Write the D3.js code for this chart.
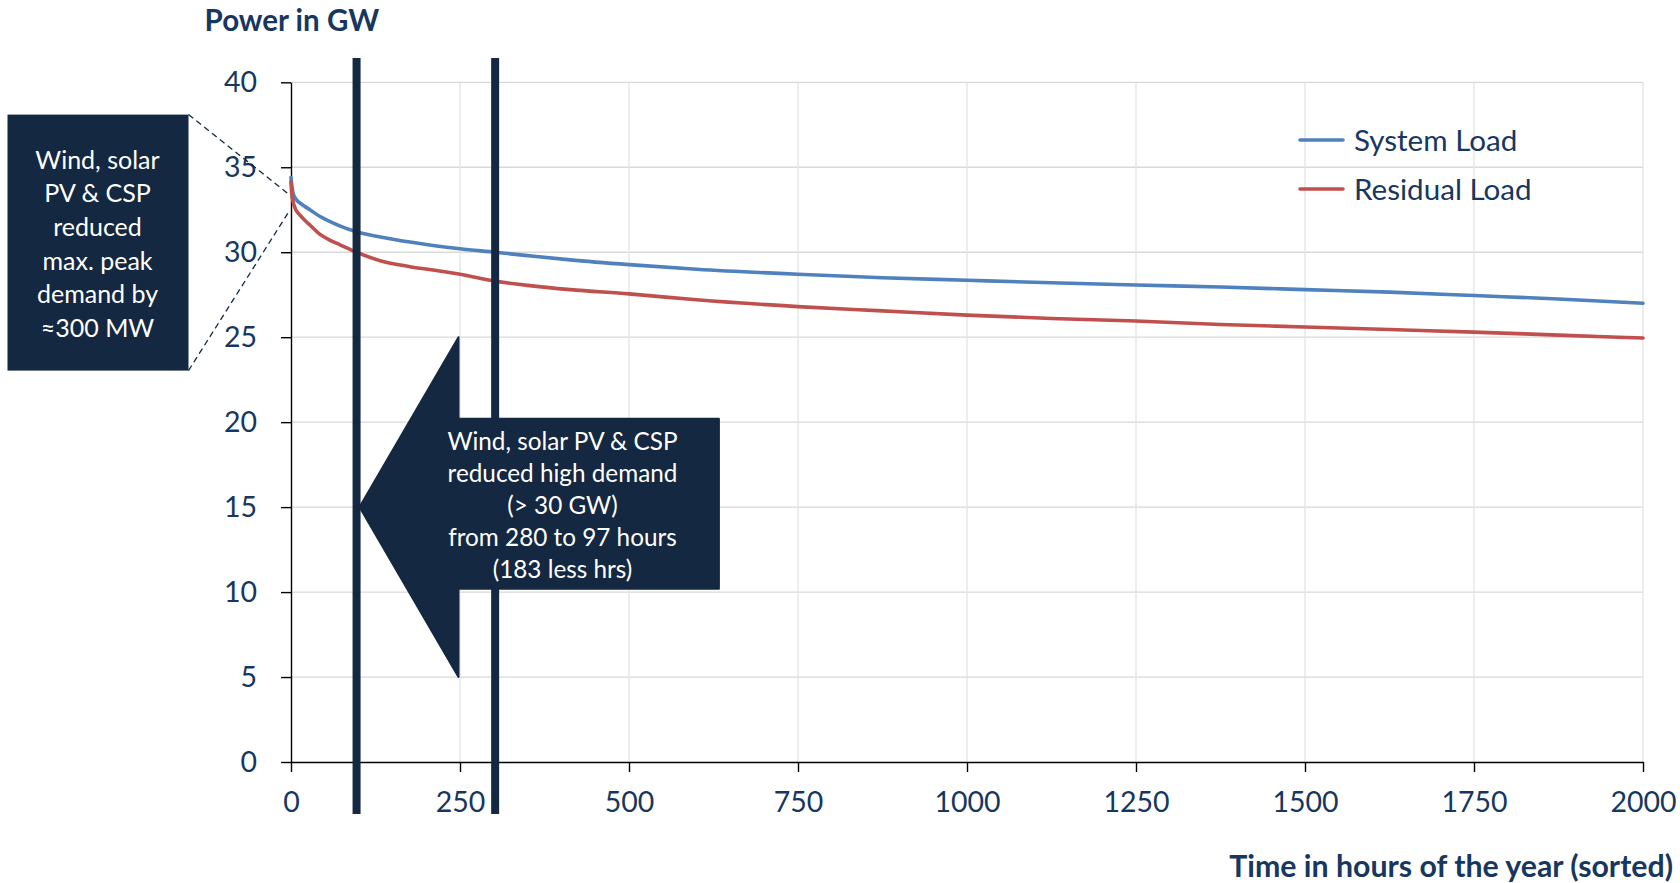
<!DOCTYPE html>
<html>
<head>
<meta charset="utf-8">
<script src="https://cdn.jsdelivr.net/npm/d3@7"></script>
<style>
  html, body { margin: 0; padding: 0; background: #fff; }
  svg { display: block; }
  text { font-family: Lato, "Open Sans", sans-serif; }
</style>
</head>
<body>
<svg id="chart" width="1680" height="883"></svg>
<script>
// ---- data ----
const hours = [0, 1, 3, 6, 13, 20, 28, 43, 58, 72, 97, 132, 176, 210, 250, 302, 350, 413, 500, 600, 750, 875, 1000, 1125, 1250, 1375, 1500, 1625, 1750, 1875, 2000];
const systemLoad = [34.4, 34.0, 33.5, 33.2, 32.9, 32.7, 32.5, 32.1, 31.8, 31.55, 31.2, 30.9, 30.6, 30.4, 30.2, 30.0, 29.8, 29.55, 29.27, 29.0, 28.7, 28.5, 28.35, 28.2, 28.07, 27.95, 27.8, 27.65, 27.45, 27.25, 27.0];
const residualLoad = [34.15, 33.5, 33.0, 32.6, 32.2, 31.9, 31.6, 31.05, 30.7, 30.45, 30.0, 29.5, 29.15, 28.95, 28.7, 28.3, 28.05, 27.8, 27.55, 27.2, 26.8, 26.55, 26.3, 26.1, 25.95, 25.75, 25.6, 25.45, 25.3, 25.12, 24.95];
const seriesNames = ["System Load", "Residual Load"];
const xTicks = [0, 250, 500, 750, 1000, 1250, 1500, 1750, 2000];
const yTicks = [0, 5, 10, 15, 20, 25, 30, 35, 40];
const markerHours = [97, 302];
const yTitle = "Power in GW";
const xTitle = "Time in hours of the year (sorted)";
const leftNote = ["Wind, solar", "PV & CSP", "reduced", "max. peak", "demand by", "≈300 MW"];
const arrowNote = ["Wind, solar PV & CSP", "reduced high demand", "(> 30 GW)", "from 280 to 97 hours", "(183 less hrs)"];

// ---- styles ----
const navy = "#142841";
const textCol = "#17375e";
const colors = ["#4f81bd", "#c0504d"];

const svg = d3.select("#chart");
const x = d3.scaleLinear().domain([0, 2000]).range([291, 1643]);
const y = d3.scaleLinear().domain([0, 40]).range([762, 82.3]);

// gridlines
svg.append("g").selectAll("line.h").data(yTicks.filter(d => d > 0)).join("line")
  .attr("x1", x(0)).attr("x2", x(2000))
  .attr("y1", d => y(d)).attr("y2", d => y(d))
  .attr("stroke", "#d9d9d9").attr("stroke-width", 1.3);
svg.append("g").selectAll("line.v").data(xTicks.filter(d => d > 0)).join("line")
  .attr("x1", d => x(d)).attr("x2", d => x(d))
  .attr("y1", y(0)).attr("y2", y(40))
  .attr("stroke", "#e3e3e3").attr("stroke-width", 1.3);

// axes
const yAxis = svg.append("g").attr("transform", `translate(${x(0)},0)`)
  .call(d3.axisLeft(y).tickValues(yTicks).tickSize(10).tickPadding(24).tickSizeOuter(0));
const xAxis = svg.append("g").attr("transform", `translate(0,${y(0)})`)
  .call(d3.axisBottom(x).tickValues(xTicks).tickSize(10).tickPadding(20).tickSizeOuter(0).tickFormat(d3.format("d")));
[yAxis, xAxis].forEach(a => {
  a.select(".domain").attr("stroke", "#000").attr("stroke-width", 1.4);
  a.selectAll(".tick line").attr("stroke", "#000").attr("stroke-width", 1.4);
  a.selectAll(".tick text").attr("fill", textCol).attr("font-size", 28.5)
    .attr("font-family", "Lato, sans-serif");
});

// series lines
const line = d3.line().x((d, i) => x(hours[i])).y(d => y(d)).curve(d3.curveMonotoneX);
[systemLoad, residualLoad].forEach((s, k) => {
  svg.append("path").datum(s).attr("d", line)
    .attr("fill", "none").attr("stroke", colors[k]).attr("stroke-width", 3.6)
    .attr("stroke-linejoin", "round").attr("stroke-linecap", "round");
});

// vertical marker lines
svg.append("g").selectAll("line").data(markerHours).join("line")
  .attr("x1", d => x(d)).attr("x2", d => x(d))
  .attr("y1", 58).attr("y2", 814)
  .attr("stroke", navy).attr("stroke-width", 8);

// arrow callout
const tipX = x(97) + 3, baseX = x(250) - 1.5, rightX = x(633);
const arrowPts = [
  [tipX, y(15)], [baseX, y(25)], [baseX, y(20.2)], [rightX, y(20.2)],
  [rightX, y(10.2)], [baseX, y(10.2)], [baseX, y(5)]
];
svg.append("path").attr("d", "M" + arrowPts.map(p => p.join(",")).join("L") + "Z")
  .attr("fill", navy).attr("stroke", navy).attr("stroke-width", 2).attr("stroke-linejoin", "round");
svg.append("text").attr("text-anchor", "middle").attr("fill", "#fff").attr("font-size", 24.3)
  .selectAll("tspan").data(arrowNote).join("tspan")
  .attr("x", 562.5).attr("y", (d, i) => 450 + i * 32).text(d => d);

// left note box with dashed leader lines
svg.append("rect").attr("x", 7.5).attr("y", 114.6).attr("width", 181).attr("height", 256)
  .attr("fill", navy);
svg.append("text").attr("text-anchor", "middle").attr("fill", "#fff").attr("font-size", 25)
  .selectAll("tspan").data(leftNote).join("tspan")
  .attr("x", 97.5).attr("y", (d, i) => 168.5 + i * 33.7).text(d => d);
svg.append("line").attr("x1", 188.5).attr("y1", 114.6).attr("x2", x(0) - 2).attr("y2", y(33.4))
  .attr("stroke", navy).attr("stroke-width", 1.3).attr("stroke-dasharray", "6,4");
svg.append("line").attr("x1", 188.5).attr("y1", 370.6).attr("x2", x(0) - 2).attr("y2", y(32.4))
  .attr("stroke", navy).attr("stroke-width", 1.3).attr("stroke-dasharray", "6,4");

// legend
const lg = svg.append("g").selectAll("g").data(seriesNames).join("g")
  .attr("transform", (d, i) => `translate(1300,${140 + i * 49})`);
lg.append("line").attr("x1", 0).attr("x2", 43).attr("stroke", (d, i) => colors[i])
  .attr("stroke-width", 3.6).attr("stroke-linecap", "round");
lg.append("text").attr("x", 54).attr("y", 10.5).attr("fill", textCol).attr("font-size", 29.6).text(d => d);

// axis titles
svg.append("text").attr("x", 204.6).attr("y", 30.5).attr("fill", textCol)
  .attr("font-size", 29.5).attr("font-weight", "bold").text(yTitle);
svg.append("text").attr("x", 1673).attr("y", 876.5).attr("text-anchor", "end").attr("fill", textCol)
  .attr("font-size", 30.3).attr("font-weight", "bold").text(xTitle);
</script>
</body>
</html>
